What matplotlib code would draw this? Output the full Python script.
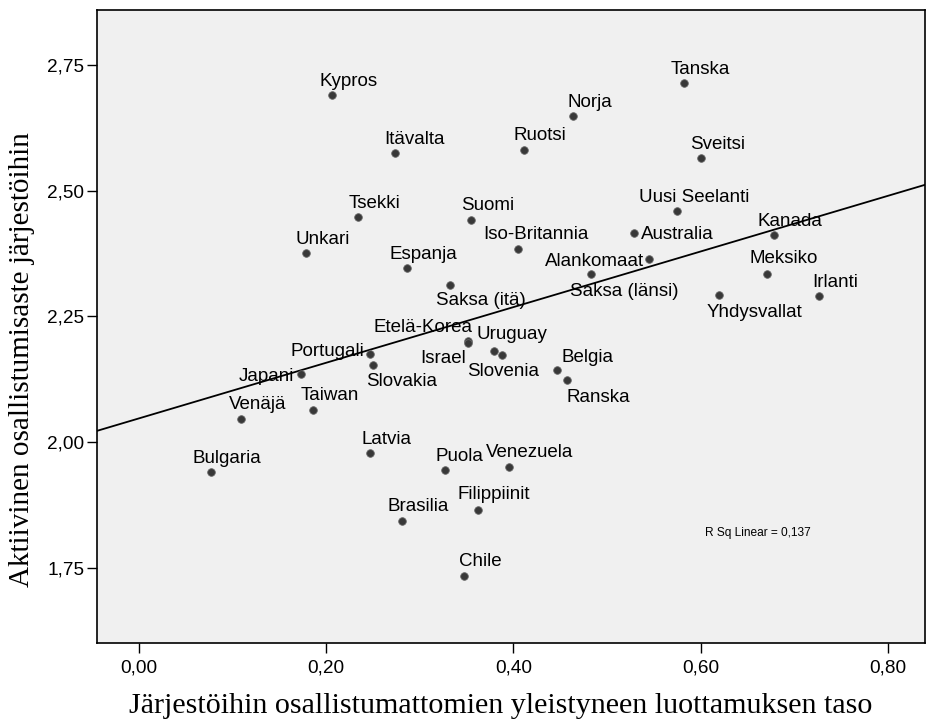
import numpy as np
import matplotlib
matplotlib.use("Agg")
import matplotlib.pyplot as plt

# ---- data ----
countries = ["Kypros", "Itävalta", "Tsekki", "Suomi", "Unkari", "Espanja", "Saksa (itä)",
             "Tanska", "Norja", "Ruotsi", "Sveitsi", "Uusi Seelanti", "Australia", "Kanada",
             "Iso-Britannia", "Alankomaat", "Saksa (länsi)", "Meksiko", "Yhdysvallat", "Irlanti",
             "Etelä-Korea", "Israel", "Uruguay", "Slovenia", "Portugali", "Slovakia", "Japani",
             "Belgia", "Ranska", "Taiwan", "Venäjä", "Latvia", "Bulgaria", "Puola", "Venezuela",
             "Filippiinit", "Brasilia", "Chile"]
trust = [0.206, 0.274, 0.234, 0.355, 0.179, 0.286, 0.332,
         0.582, 0.464, 0.411, 0.600, 0.575, 0.529, 0.678,
         0.405, 0.545, 0.483, 0.671, 0.619, 0.726,
         0.351, 0.352, 0.379, 0.388, 0.247, 0.250, 0.173,
         0.446, 0.457, 0.186, 0.109, 0.247, 0.077, 0.327, 0.395,
         0.362, 0.281, 0.347]
participation = [2.690, 2.574, 2.447, 2.441, 2.376, 2.346, 2.313,
                 2.713, 2.648, 2.581, 2.564, 2.459, 2.415, 2.411,
                 2.384, 2.364, 2.335, 2.335, 2.292, 2.290,
                 2.202, 2.198, 2.182, 2.174, 2.175, 2.154, 2.136,
                 2.144, 2.124, 2.065, 2.047, 1.978, 1.940, 1.944, 1.950,
                 1.866, 1.844, 1.735]
x_ticks = [0.0, 0.2, 0.4, 0.6, 0.8]
y_ticks = [1.75, 2.0, 2.25, 2.5, 2.75]
x_tick_labels = ["0,00", "0,20", "0,40", "0,60", "0,80"]
y_tick_labels = ["1,75", "2,00", "2,25", "2,50", "2,75"]
r_sq_text = "R Sq Linear = 0,137"
x_title = "Järjestöihin osallistumattomien yleistyneen luottamuksen taso"
y_title = "Aktiivinen osallistumisaste järjestöihin"

# ---- label placement (layout only, pixel offsets: dx, dy up) ----
default_off = (16.5, 9.5)
label_off = {
    "Itävalta": (18.7, 9.3), "Suomi": (16, 10.3), "Saksa (itä)": (31.4, -20.3),
    "Australia": (43, -5.7), "Iso-Britannia": (17.8, 10), "Alankomaat": (-55.1, -6.7),
    "Saksa (länsi)": (33.2, -22), "Meksiko": (16.3, 11), "Yhdysvallat": (35.5, -21.4),
    "Etelä-Korea": (-44.5, 9), "Israel": (-25.2, -20.8), "Uruguay": (18.5, 11.4),
    "Slovenia": (0.6, -21.7), "Portugali": (-42.5, -1.7), "Slovakia": (28.3, -21.3),
    "Japani": (-34, -7), "Belgia": (30.8, 8.3), "Ranska": (31.1, -21.7),
    "Puola": (14.5, 9.3), "Venezuela": (20.5, 10.4), "Filippiinit": (15.8, 10.4),
}

W, H = 926, 721
fig = plt.figure(figsize=(W / 100, H / 100), dpi=100, facecolor="white")
ax = fig.add_axes([96.7 / W, 1 - 643.3 / H, (925 - 96.7) / W, (643.3 - 10) / H])
ax.set_facecolor("#f0f0f0")
ax.set_xlim(-0.0448, 0.8393)
ax.set_ylim(1.6006, 2.859)

sans = "Liberation Sans"
serif = "Liberation Serif"

# regression line
slope, intercept = np.polyfit(trust, participation, 1)
xl = np.array(ax.get_xlim())
ax.plot(xl, intercept + slope * xl, color="black", lw=1.3, zorder=2)

ax.scatter(trust, participation, s=30, color="#383838", edgecolors="#666666",
           linewidths=0.6, zorder=3)

for name, x, y in zip(countries, trust, participation):
    dx, dy = label_off.get(name, default_off)
    ax.annotate(name, (x, y), xytext=(dx, dy), textcoords="offset pixels",
                ha="center", va="baseline", fontsize=13.5, family=sans,
                color="black", zorder=4)

ax.set_xticks(x_ticks)
ax.set_xticklabels(x_tick_labels, family=sans, fontsize=13.7)
ax.set_yticks(y_ticks)
ax.set_yticklabels(y_tick_labels, family=sans, fontsize=13.7)
ax.tick_params(axis="both", direction="out", length=7.5, width=1.0, color="black")
ax.tick_params(axis="y", pad=1.5)
ax.tick_params(axis="x", pad=4)
for sp in ax.spines.values():
    sp.set_linewidth(1.2)
    sp.set_color("black")

fig.text(705 / W, 1 - 533 / H, r_sq_text, fontsize=8.6, family=sans, va="center", ha="left")
fig.text(501 / W, 1 - 713 / H, x_title, fontsize=21.6, family=serif, ha="center", va="baseline")
fig.text(22 / W, 1 - 360 / H, y_title, fontsize=21, family=serif, ha="center", va="center",
         rotation=90)

fig.savefig("out.png", dpi=100, facecolor="white")
